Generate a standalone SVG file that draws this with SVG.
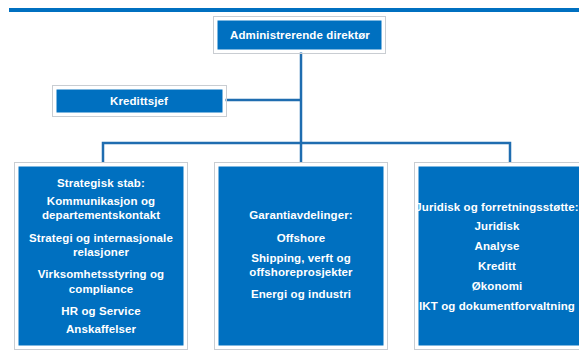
<svg xmlns="http://www.w3.org/2000/svg" width="579" height="352" viewBox="0 0 579 352">
<style>
.box{fill:#0070C0;stroke:#ffffff;stroke-width:3}
.frame{fill:none;stroke:#c9cdd2;stroke-width:1}
.t{font-family:"Liberation Sans",Arial,sans-serif;font-weight:bold;font-size:11.5px;letter-spacing:0.1px;fill:#ffffff;text-anchor:middle}
.c{fill:none;stroke:#1f6db0;stroke-width:2.5}
</style>
<rect width="579" height="352" fill="#ffffff"/>
<rect x="9" y="8" width="570" height="4" fill="#0070C0"/>
<g id="connectors">
<path class="c" d="M301 52V143"/>
<path class="c" d="M225 100H301"/>
<path class="c" d="M103 162V143H510V162"/>
<path class="c" d="M301 143V162"/>
</g>
<g id="ceo">
<rect class="frame" x="213.5" y="16.5" width="172" height="37"/>
<rect class="box" x="216" y="19" width="167" height="32"/>
<text class="t" x="300" y="39">Administrerende direktør</text>
</g>
<g id="kredittsjef">
<rect class="frame" x="52.5" y="85.5" width="174" height="31"/>
<rect class="box" x="55" y="88" width="169" height="26"/>
<text class="t" x="139" y="105">Kredittsjef</text>
</g>
<g id="strategisk">
<rect class="frame" x="14.5" y="162.5" width="173" height="187"/>
<rect class="box" x="17" y="165" width="168" height="182"/>
<text class="t" x="101" y="187">Strategisk stab:</text>
<text class="t" x="101" y="205">Kommunikasjon og</text>
<text class="t" x="101" y="219">departementskontakt</text>
<text class="t" x="101" y="242">Strategi og internasjonale</text>
<text class="t" x="101" y="256">relasjoner</text>
<text class="t" x="101" y="278">Virksomhetsstyring og</text>
<text class="t" x="101" y="293">compliance</text>
<text class="t" x="101" y="315">HR og Service</text>
<text class="t" x="101" y="333">Anskaffelser</text>
</g>
<g id="garanti">
<rect class="frame" x="214.5" y="162.5" width="173" height="187"/>
<rect class="box" x="217" y="165" width="168" height="182"/>
<text class="t" x="301" y="219">Garantiavdelinger:</text>
<text class="t" x="301" y="242">Offshore</text>
<text class="t" x="301" y="262">Shipping, verft og</text>
<text class="t" x="301" y="276">offshoreprosjekter</text>
<text class="t" x="301" y="298">Energi og industri</text>
</g>
<g id="juridisk">
<rect class="frame" x="414.5" y="162.5" width="173" height="187"/>
<rect class="box" x="417" y="165" width="168" height="182"/>
<text class="t" x="497" y="211">Juridisk og forretningsstøtte:</text>
<text class="t" x="497" y="230">Juridisk</text>
<text class="t" x="497" y="250">Analyse</text>
<text class="t" x="497" y="270">Kreditt</text>
<text class="t" x="497" y="290">Økonomi</text>
<text class="t" x="497" y="310">IKT og dokumentforvaltning</text>
</g>
</svg>
